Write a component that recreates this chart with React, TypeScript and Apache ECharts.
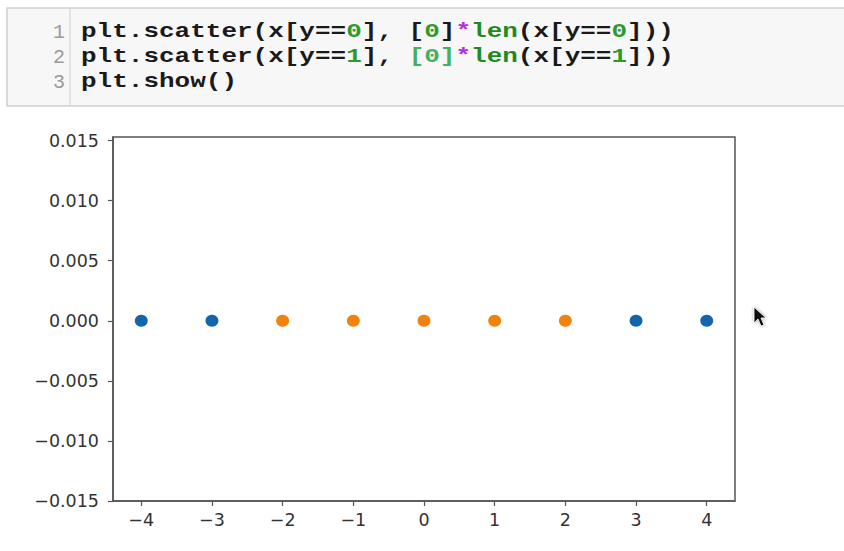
import React, { useEffect, useRef } from "react";
import * as echarts from "echarts";

const class0X = [-4, -3, 3, 4];
const class0Y = [0, 0, 0, 0];
const class1X = [-2, -1, 0, 1, 2];
const class1Y = [0, 0, 0, 0, 0];
const yTicks = [-0.015, -0.01, -0.005, 0, 0.005, 0.01, 0.015];
const xTicks = [-4, -3, -2, -1, 0, 1, 2, 3, 4];
const codeLines = [
  "{k|plt.scatter(x[y==}{n|0}{k|], [}{n|0}{k|]}{p|*}{f|len}{k|(x[y==}{n|0}{k|]))}",
  "{k|plt.scatter(x[y==}{n|1}{k|], }{m|[0]}{p|*}{f|len}{k|(x[y==}{n|1}{k|]))}",
  "{k|plt.show()}",
];
const lineNumbers = ["1", "2", "3"];

export default function App() {
  const ref = useRef<HTMLDivElement>(null);
  useEffect(() => {
    if (!ref.current) return;
    const chart = echarts.init(ref.current, null, { renderer: "svg" });
    const codeFont = '"Liberation Mono", "DejaVu Sans Mono", monospace';
    const fs = 20;
    const rich = {
      k: { fontFamily: codeFont, fontSize: fs, fontWeight: "bold", fill: "#1a1a1a" },
      n: { fontFamily: codeFont, fontSize: fs, fontWeight: "bold", fill: "#2e9a2e" },
      m: { fontFamily: codeFont, fontSize: fs, fontWeight: "bold", fill: "#44b060" },
      f: { fontFamily: codeFont, fontSize: fs, fontWeight: "bold", fill: "#1f8a1f" },
      p: { fontFamily: codeFont, fontSize: fs, fontWeight: "bold", fill: "#b030e0" },
    };
    const lineY = [32, 57, 82];
    const graphics: any[] = [
      {
        type: "rect",
        shape: { x: 7, y: 8, width: 850, height: 98 },
        style: { fill: "#f7f7f7", stroke: "#cfcfcf", lineWidth: 1.5 },
        silent: true,
      },
      {
        type: "line",
        shape: { x1: 70, y1: 9, x2: 70, y2: 105 },
        style: { stroke: "#dddddd", lineWidth: 1.5 },
        silent: true,
      },
    ];
    codeLines.forEach((t, i) => {
      graphics.push({
        type: "text",
        x: 81,
        y: lineY[i],
        scaleX: 1.3,
        style: { text: t, rich, verticalAlign: "middle", align: "left" },
        silent: true,
      });
      graphics.push({
        type: "text",
        x: 65,
        y: lineY[i],
        style: {
          text: lineNumbers[i],
          fontFamily: codeFont,
          fontSize: 20,
          fill: "#9a9a9a",
          align: "right",
          verticalAlign: "middle",
        },
        silent: true,
      });
    });
    graphics.push({
      type: "polygon",
      shape: {
        points: [
          [754, 307], [754, 323], [758, 319], [761, 326], [764, 325], [761, 318], [766, 318],
        ],
      },
      style: { fill: "#111", stroke: "#fff", lineWidth: 0.8, shadowBlur: 3, shadowColor: "rgba(0,0,0,0.4)" },
      silent: true,
    });

    const labelStyle = {
      fontFamily: '"DejaVu Sans", sans-serif',
      fontSize: 17.5,
      color: "#333333",
    };
    const fmt = (v: number, d: number) => {
      const s = Math.abs(v) < 1e-12 ? (0).toFixed(d) : v.toFixed(d);
      return s.replace("-", "\u2212");
    };
    chart.setOption({
      animation: false,
      backgroundColor: "#ffffff",
      graphic: graphics,
      grid: {
        left: 113,
        top: 137,
        right: 109,
        bottom: 50,
        show: true,
        borderColor: "#555",
        borderWidth: 1.5,
        backgroundColor: "#fff",
      },
      xAxis: {
        type: "value",
        min: -4.4,
        max: 4.4,
        splitLine: { show: false },
        axisLine: { show: true, onZero: false, lineStyle: { color: "#555", width: 1.5 } },
        axisTick: { show: true, length: 5, lineStyle: { color: "#555", width: 1.2 }, customValues: xTicks },
        axisLabel: {
          ...labelStyle,
          margin: 10,
          customValues: xTicks,
          formatter: (v: number) => fmt(v, 0),
        },
      },
      yAxis: {
        type: "value",
        min: -0.015,
        max: 0.0153,
        splitLine: { show: false },
        axisLine: { show: true, onZero: false, lineStyle: { color: "#555", width: 1.5 } },
        axisTick: { show: true, length: 5, lineStyle: { color: "#555", width: 1.2 }, customValues: yTicks },
        axisLabel: {
          ...labelStyle,
          margin: 14,
          customValues: yTicks,
          formatter: (v: number) => fmt(v, 3),
        },
      },
      series: [
        {
          type: "scatter",
          data: class0X.map((x, i) => [x, class0Y[i]]),
          symbol: "circle",
          symbolSize: [13, 12],
          itemStyle: { color: "#1565ad", opacity: 1 },
          silent: true,
        },
        {
          type: "scatter",
          data: class1X.map((x, i) => [x, class1Y[i]]),
          symbol: "circle",
          symbolSize: [13, 12],
          itemStyle: { color: "#f2820e", opacity: 1 },
          silent: true,
        },
      ],
    });
    return () => chart.dispose();
  }, []);
  return <div ref={ref} style={{ width: 844, height: 551, position: "absolute", left: 0, top: 0 }} />;
}
